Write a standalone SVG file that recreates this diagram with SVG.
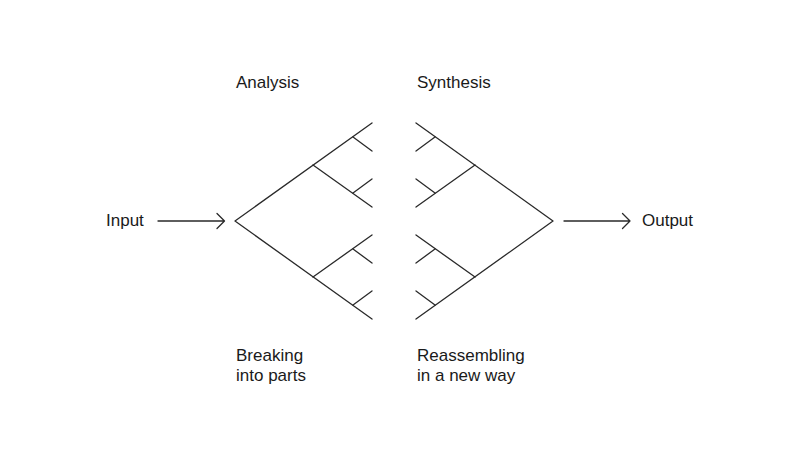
<svg xmlns="http://www.w3.org/2000/svg" width="812" height="475" viewBox="0 0 812 475">
<style>
.ln{fill:none;stroke:#2a2a2a;stroke-width:1.3;stroke-linecap:round;stroke-linejoin:round}
.t{font-family:"Liberation Sans",Arial,sans-serif;font-size:17px;fill:#1a1a1a}
</style>
<rect width="812" height="475" fill="#ffffff"/>
<g id="analysis-tree">
<path class="ln" d="M372,123 L235,221 L372,319"/>
<path class="ln" d="M313,165 L372,207"/>
<path class="ln" d="M313,277 L372,235"/>
<path class="ln" d="M353,137 L372,151"/>
<path class="ln" d="M353,193 L372,179"/>
<path class="ln" d="M353,249 L372,263"/>
<path class="ln" d="M353,305 L372,291"/>
</g>
<g id="synthesis-tree">
<path class="ln" d="M416,123 L553,221 L416,319"/>
<path class="ln" d="M475,165 L416,207"/>
<path class="ln" d="M475,277 L416,235"/>
<path class="ln" d="M435,137 L416,151"/>
<path class="ln" d="M435,193 L416,179"/>
<path class="ln" d="M435,249 L416,263"/>
<path class="ln" d="M435,305 L416,291"/>
</g>
<g id="connectors">
<path class="ln" d="M158,221 L224,221 M217,213.5 L224.5,221 L217,228.5"/>
<path class="ln" d="M564,221 L630,221 M622.5,213.5 L630,221 L622.5,228.5"/>
</g>
<g id="input"><text class="t" x="106" y="226">Input</text></g>
<g id="output"><text class="t" x="642" y="226">Output</text></g>
<g id="analysis"><text class="t" x="236" y="88">Analysis</text></g>
<g id="synthesis"><text class="t" x="417" y="88">Synthesis</text></g>
<g id="breaking"><text class="t" x="236" y="360.5">Breaking</text><text class="t" x="236" y="381">into parts</text></g>
<g id="reassembling"><text class="t" x="417" y="360.5">Reassembling</text><text class="t" x="417" y="381">in a new way</text></g>
</svg>
